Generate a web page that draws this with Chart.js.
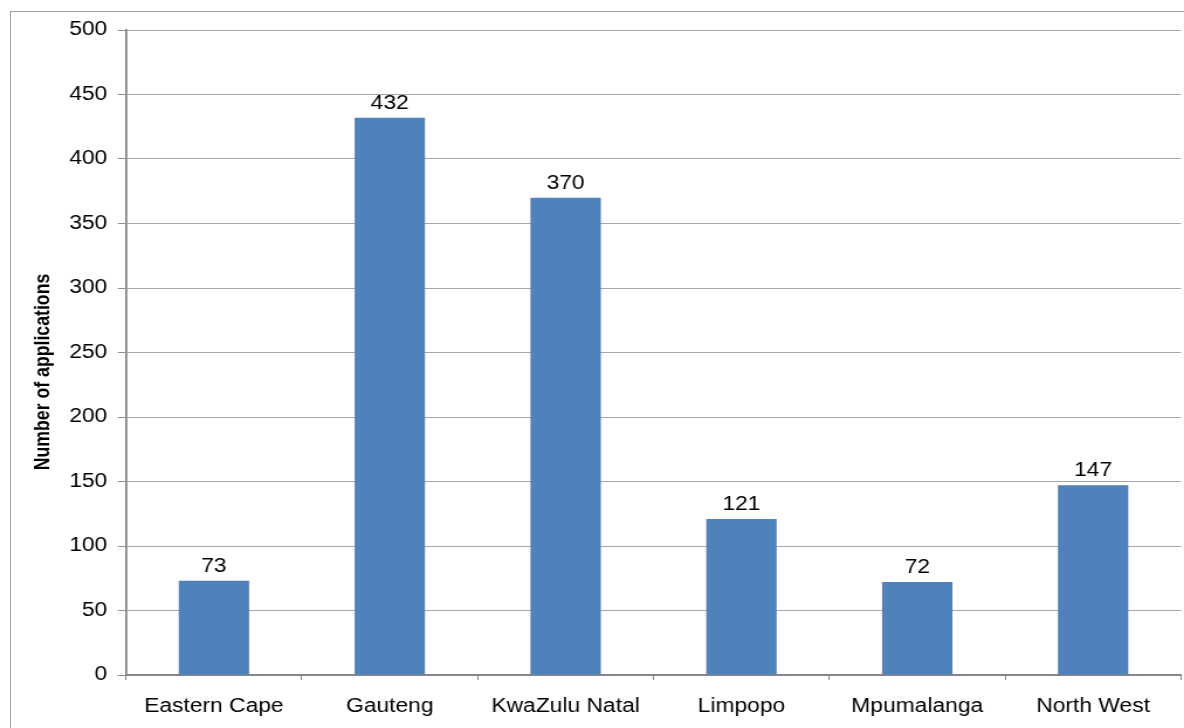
<!DOCTYPE html>
<html>
<head>
<meta charset="utf-8">
<script src="https://cdn.jsdelivr.net/npm/chart.js@4/dist/chart.umd.min.js"></script>
<style>
    html, body { margin: 0; padding: 0; background: #fff; overflow: hidden; }
    #frame {
        position: absolute; left: 10px; top: 11px;
        width: 1200px; height: 800px;
        border: 1px solid #a3a3a3;
    }
    #appChart {
        position: absolute; left: 0; top: 0;
        transform: scaleX(1.17);
        transform-origin: 0 0;
    }
</style>
</head>
<body>
<div id="frame"></div>
<canvas id="appChart" width="1012" height="728"></canvas>
<script>
const provinces = ['Eastern Cape', 'Gauteng', 'KwaZulu Natal', 'Limpopo', 'Mpumalanga', 'North West'];
const applications = [73, 432, 370, 121, 72, 147];
const axisMax = 500;
const axisStep = 50;
const yTitle = 'Number of applications';

const FONT = "'Liberation Sans', Arial, sans-serif";

// value printed above every bar
const barLabels = {
    id: 'barLabels',
    afterDatasetsDraw(chart) {
        const ctx = chart.ctx;
        const meta = chart.getDatasetMeta(0);
        ctx.save();
        ctx.font = '19.5px ' + FONT;
        ctx.fillStyle = '#000';
        ctx.textAlign = 'center';
        ctx.textBaseline = 'alphabetic';
        meta.data.forEach((bar, i) => {
            ctx.fillText(String(chart.data.datasets[0].data[i]), bar.x, bar.y - 9);
        });
        ctx.restore();
    }
};

// rotated y axis title, sits a little below the middle of the axis
const axisTitle = {
    id: 'axisTitle',
    afterDraw(chart) {
        const ctx = chart.ctx;
        ctx.save();
        ctx.translate(37.6, 372);
        ctx.rotate(-Math.PI / 2);
        ctx.font = 'bold 17.7px ' + FONT;
        ctx.fillStyle = '#000';
        ctx.textAlign = 'center';
        ctx.textBaseline = 'middle';
        ctx.fillText(yTitle, 0, 0);
        ctx.restore();
    }
};

const ctx = document.getElementById('appChart').getContext('2d');
new Chart(ctx, {
    type: 'bar',
    data: {
        labels: provinces,
        datasets: [{
            label: yTitle,
            data: applications,
            backgroundColor: '#4f81bd',
            borderWidth: 0,
            barPercentage: 0.4,
            categoryPercentage: 1
        }]
    },
    options: {
        responsive: false,
        animation: false,
        layout: { padding: { top: 30, right: 2.6, left: 0, bottom: 0 } },
        plugins: {
            legend: { display: false },
            tooltip: { enabled: false }
        },
        scales: {
            x: {
                afterFit: scale => { scale.height = 53; },
                grid: {
                    offset: true,
                    drawOnChartArea: false,
                    drawTicks: true,
                    tickLength: 5,
                    color: '#878787'
                },
                border: { color: '#878787', width: 2 },
                ticks: {
                    color: '#000',
                    padding: 15,
                    font: { family: FONT, size: 19.5 }
                }
            },
            y: {
                min: 0,
                max: axisMax,
                afterFit: scale => { scale.width = 107.7; },
                grid: {
                    color: '#a6a6a6',
                    tickColor: '#909090',
                    tickLength: 7,
                    lineWidth: 1
                },
                border: { color: '#878787', width: 1.8 },
                ticks: {
                    stepSize: axisStep,
                    color: '#000',
                    padding: 9,
                    font: { family: FONT, size: 19.5 }
                }
            }
        }
    },
    plugins: [barLabels, axisTitle]
});
</script>
</body>
</html>
